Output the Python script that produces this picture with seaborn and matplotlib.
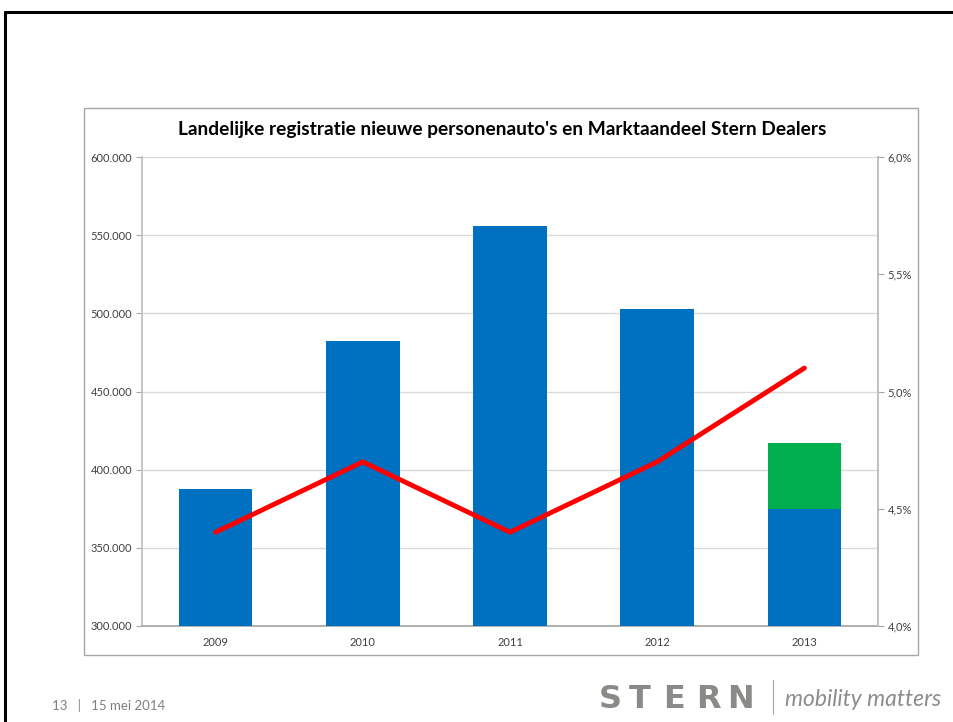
import numpy as np
import pandas as pd
import matplotlib
matplotlib.use("Agg")
import matplotlib.pyplot as plt
from matplotlib.lines import Line2D
from matplotlib.patches import Rectangle
import seaborn as sns

# data
years = ["2009", "2010", "2011", "2012", "2013"]
registraties = [387700, 482500, 555800, 502500, 374800]
prognose_extra = [0, 0, 0, 0, 42200]
marktaandeel = [4.4, 4.7, 4.4, 4.7, 5.1]

left_ticks = [300000, 350000, 400000, 450000, 500000, 550000, 600000]
right_ticks = [4.0, 4.5, 5.0, 5.5, 6.0]

df = pd.DataFrame({"jaar": years, "reg": registraties,
                   "totaal": np.array(registraties) + np.array(prognose_extra),
                   "aandeel": marktaandeel})

sns.set_theme(style="white")
plt.rcParams["font.family"] = ["Lato", "DejaVu Sans"]

W, H = 954, 722
fig = plt.figure(figsize=(W / 100, H / 100), dpi=100)

# slide border (black, top + left)
fig.add_artist(Line2D([5 / W, 1], [1 - 12 / H, 1 - 12 / H], color="black", lw=2.2))
fig.add_artist(Line2D([5 / W, 5 / W], [1 - 12 / H, 0], color="black", lw=2.2))

# chart frame
fig.add_artist(Rectangle((84 / W, 1 - 655 / H), (918 - 84) / W, (655 - 108) / H,
                         fill=False, edgecolor="#a6a6a6", lw=1.0))

ax = fig.add_axes([142 / W, 1 - 626 / H, (878 - 142) / W, (626 - 157) / H])

sns.barplot(data=df, x="jaar", y="totaal", color="#00B050", saturation=1,
            width=0.5, ax=ax, zorder=2, linewidth=0)
sns.barplot(data=df, x="jaar", y="reg", color="#0070C0", saturation=1,
            width=0.5, ax=ax, zorder=3, linewidth=0)

ax.set_ylim(300000, 600000)
ax.set_xlim(-0.5, 4.5)
ax.set_yticks(left_ticks)
ax.set_yticklabels([f"{v:,}".replace(",", ".") for v in left_ticks])
ax.set_xlabel("")
ax.set_ylabel("")
ax.yaxis.grid(True, color="#d9d9d9", lw=1.0, zorder=0)
ax.set_axisbelow(True)
ax.tick_params(axis="y", length=4, width=0.8, color="#a6a6a6", labelsize=8,
               labelcolor="#404040", pad=3, direction="out", left=True)
ax.tick_params(axis="x", length=0, labelsize=8, labelcolor="#404040", pad=8)
ax.spines["top"].set_visible(False)
ax.spines["left"].set_color("#bfbfbf")
ax.spines["right"].set_color("#bfbfbf")
ax.spines["bottom"].set_color("#a6a6a6")

ax2 = ax.twinx()
sns.lineplot(x=np.arange(len(years)), y=df["aandeel"], color="#FF0000", lw=3.5,
             ax=ax2, zorder=5)
ax2.set_ylim(4.0, 6.0)
ax2.set_yticks(right_ticks)
ax2.set_yticklabels([f"{v:.1f}%".replace(".", ",") for v in right_ticks])
ax2.set_ylabel("")
ax2.tick_params(axis="y", length=4, width=0.8, color="#a6a6a6", labelsize=8,
                labelcolor="#404040", pad=3, direction="out", right=True)
for s in ["top", "left", "bottom"]:
    ax2.spines[s].set_visible(False)
ax2.spines["right"].set_color("#bfbfbf")

fig.text(502 / W, 1 - 130 / H,
         "Landelijke registratie nieuwe personenauto's en Marktaandeel Stern Dealers",
         ha="center", va="center", fontsize=13.8, fontweight="bold", color="black")

# footer
fig.text(52 / W, 1 - 706 / H, "13   |   15 mei 2014", ha="left", va="center",
         fontsize=9.5, color="#808080")
for letter, xc in zip("STERN", [610, 640, 674, 708, 741]):
    fig.text(xc / W, 1 - 699 / H, letter, ha="center", va="center", fontsize=23,
             fontweight="heavy", color="#8a8a86", family=["DejaVu Sans"])
fig.add_artist(Line2D([773 / W, 773 / W], [1 - 680 / H, 1 - 714 / H],
                      color="#a6a6a6", lw=0.8))
fig.text(785 / W, 1 - 700 / H, "mobility matters", ha="left", va="center",
         fontsize=16.5, style="italic", color="#8c8c8c")

fig.savefig("out.png", dpi=100)
